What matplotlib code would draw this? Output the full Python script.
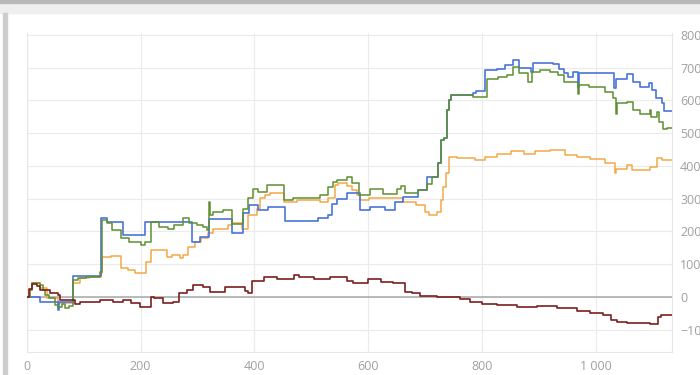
import matplotlib
matplotlib.use('Agg')
import matplotlib.pyplot as plt
from matplotlib.patches import Rectangle
from matplotlib.ticker import FuncFormatter

# step series: (x, y) where the value changes
blue_x = [0, 24, 55, 57, 82, 131, 141, 169, 208, 290, 304, 320, 360, 380, 390, 406, 424, 454,
          512, 530, 536, 545, 562, 586, 603, 630, 647, 661, 688, 703, 723, 728, 733, 738, 742,
          746, 784, 790, 805, 826, 840, 855, 864, 885, 890, 925, 935, 943, 951, 960, 968, 970,
          1031, 1035, 1055, 1065, 1078, 1094, 1098, 1106, 1116, 1120, 1133]
blue_y = [0, -16, -40, -14, 64, 240, 228, 189, 230, 169, 184, 238, 194, 255, 280, 267, 275, 233,
          240, 250, 285, 300, 316, 265, 275, 265, 290, 304, 326, 367, 408, 480, 485, 570, 600,
          616, 623, 629, 692, 697, 707, 722, 699, 687, 714, 712, 697, 683, 673, 687, 640, 684,
          637, 667, 680, 657, 640, 654, 631, 606, 591, 568, 568]

green_x = [0, 5, 10, 24, 28, 32, 40, 50, 55, 62, 68, 75, 82, 90, 105, 128, 133, 141, 150, 165,
           180, 200, 208, 219, 232, 248, 258, 275, 285, 300, 310, 316, 320, 322, 328, 345, 360,
           380, 388, 397, 407, 422, 452, 468, 515, 530, 538, 545, 562, 571, 584, 603, 626, 650,
           658, 665, 688, 703, 712, 723, 728, 733, 738, 742, 746, 784, 808, 828, 844, 855, 864,
           881, 888, 902, 920, 933, 944, 969, 971, 987, 1016, 1030, 1035, 1037, 1054, 1065, 1078,
           1095, 1097, 1108, 1110, 1118, 1124, 1133]
green_y = [0, 20, 42, 37, 20, 6, -3, -25, -30, -22, -34, -28, 52, 58, 62, 77, 235, 225, 204, 179,
           169, 159, 169, 230, 214, 209, 220, 240, 225, 220, 214, 204, 290, 250, 260, 267, 222,
           270, 301, 331, 321, 341, 296, 301, 310, 335, 351, 357, 367, 347, 311, 331, 313, 330,
           338, 316, 328, 345, 367, 408, 480, 485, 570, 600, 616, 611, 667, 672, 677, 702, 683,
           657, 687, 692, 687, 677, 657, 621, 646, 640, 626, 606, 560, 591, 596, 570, 560,
           570, 549, 566, 535, 514, 516, 516]

orange_x = [0, 5, 10, 24, 35, 55, 82, 93, 110, 130, 133, 148, 165, 178, 190, 210, 219, 246, 255,
            270, 275, 283, 295, 307, 318, 327, 354, 360, 379, 389, 404, 410, 418, 428, 452, 474,
            515, 529, 542, 547, 562, 571, 580, 586, 601, 661, 683, 700, 706, 721, 727, 731, 736,
            741, 756, 787, 805, 826, 851, 874, 893, 920, 945, 966, 990, 1016, 1033, 1036, 1055,
            1064, 1095, 1108, 1116, 1133]
orange_y = [0, 20, 42, 26, -4, -19, 42, 57, 62, 72, 121, 125, 88, 82, 72, 108, 143, 121, 128,
            118, 128, 153, 169, 179, 194, 209, 219, 225, 209, 250, 270, 301, 311, 316, 290, 296,
            290, 301, 341, 347, 338, 326, 310, 296, 301, 290, 281, 260, 250, 260, 296, 336, 377,
            428, 423, 418, 428, 438, 445, 438, 446, 450, 433, 426, 420, 410, 377, 392, 402,
            387, 397, 423, 418, 418]

red_x = [0, 4, 9, 18, 24, 41, 55, 58, 85, 94, 129, 152, 170, 183, 199, 219, 224, 240, 257, 268,
         281, 292, 310, 322, 348, 384, 388, 395, 416, 440, 469, 478, 505, 533, 562, 574, 600, 623,
         644, 665, 676, 691, 721, 761, 779, 799, 826, 861, 896, 932, 967, 990, 1013, 1027, 1037,
         1054, 1078, 1095, 1109, 1115, 1133]
red_y = [0, 25, 40, 35, 21, 13, 6, -9, -21, -14, -9, -14, -9, -19, -31, 1, -4, -19, -14, 11,
         21, 37, 30, 16, 30, 19, 11, 50, 60, 54, 66, 60, 55, 60, 50, 44, 55, 47,
         42, 16, 11, 3, 1, -7, -14, -21, -24, -31, -27, -34, -42, -50, -55, -70, -75,
         -80, -78, -82, -60, -55, -55]

x_ticks = [0, 200, 400, 600, 800, 1000]
y_ticks = [-100, 0, 100, 200, 300, 400, 500, 600, 700, 800]

plt.rcParams['font.family'] = ['Open Sans', 'DejaVu Sans']

fig = plt.figure(figsize=(7, 3.75), dpi=100)

# screenshot frame: grey bar on top and left
fig.patches.append(Rectangle((0, 1 - 13.3 / 375), 1, 13.3 / 375, transform=fig.transFigure,
                             color='#efefef', zorder=0))
fig.patches.append(Rectangle((0, 1 - 2.7 / 375), 1, 2.7 / 375, transform=fig.transFigure,
                             color='#b8b8b8', zorder=0))
fig.patches.append(Rectangle((2.7 / 700, 0), 4 / 700, 1 - 13.3 / 375, transform=fig.transFigure,
                             color='#cdcdcd', zorder=0))

ax = fig.add_axes([26.7 / 700, 1 - 352 / 375, 645 / 700, 318.7 / 375])
ax.set_xlim(0, 1133)
ax.set_ylim(-168, 805)

ax.grid(True, color='#ebebeb', linewidth=0.8)
ax.set_axisbelow(True)
for side in ['left', 'right', 'bottom']:
    ax.spines[side].set_color('#e6e6e6')
    ax.spines[side].set_linewidth(0.8)
ax.spines['top'].set_visible(False)

ax.axhline(0, color='#a8a8a8', linewidth=1.1, zorder=1)

ax.plot(orange_x, orange_y, drawstyle='steps-post', color='#f2a848', linewidth=1.1, zorder=2)
ax.plot(blue_x, blue_y, drawstyle='steps-post', color='#4a74d9', linewidth=1.2, zorder=3)
ax.plot(green_x, green_y, drawstyle='steps-post', color='#5e9032', linewidth=1.1, zorder=4)
ax.plot(red_x, red_y, drawstyle='steps-post', color='#7b1f1f', linewidth=1.2, zorder=5)

ax.set_xticks(x_ticks)
ax.set_yticks(y_ticks)
ax.xaxis.set_major_formatter(FuncFormatter(lambda v, p: '{:,}'.format(int(v)).replace(',', ' ')))
ax.yaxis.tick_right()
ax.tick_params(axis='both', length=0, labelsize=9, labelcolor='#a0a0a0')
ax.tick_params(axis='y', pad=6)
ax.tick_params(axis='x', pad=6)

fig.savefig('out.png', dpi=100)
